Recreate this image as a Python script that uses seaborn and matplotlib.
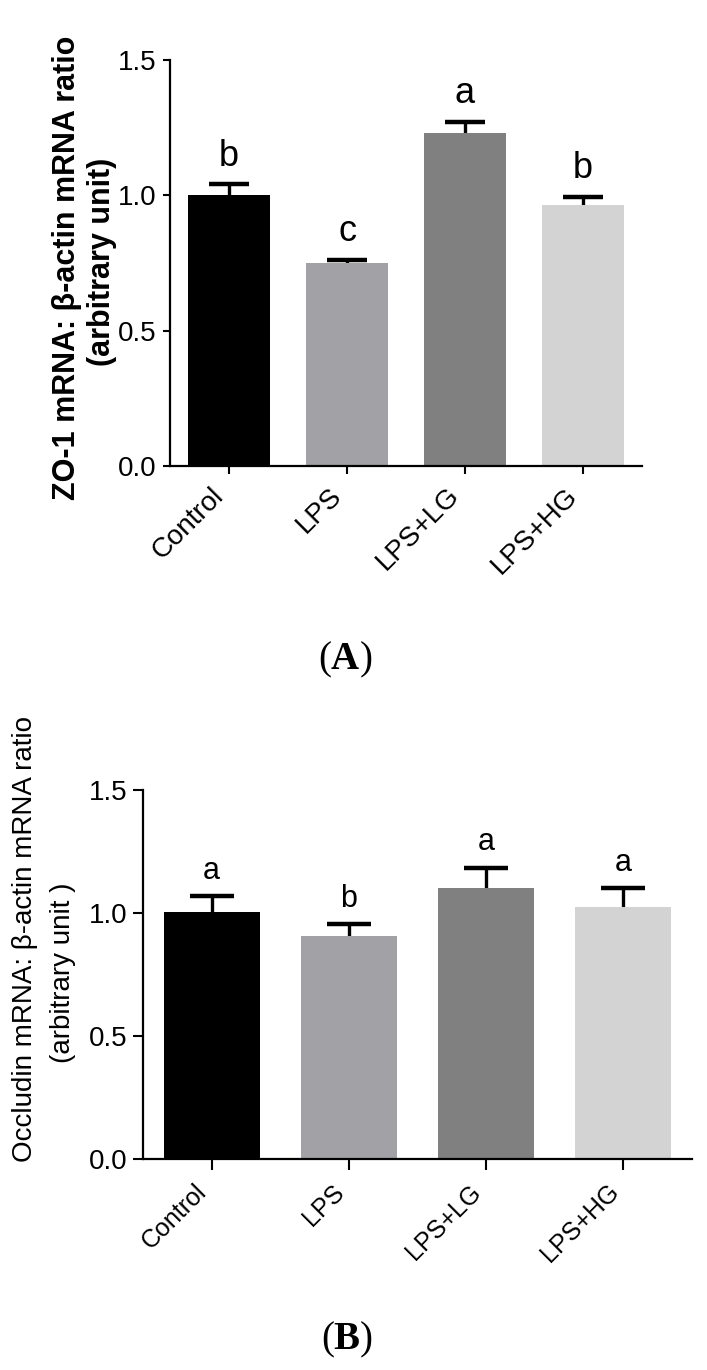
import matplotlib
matplotlib.use("Agg")
import matplotlib.pyplot as plt
from matplotlib import font_manager
import numpy as np
import pandas as pd
import seaborn as sns

# groups and bar colours (same for both panels)
groups = ["Control", "LPS", "LPS+LG", "LPS+HG"]
bar_colors = ["#000000", "#a2a1a6", "#808080", "#d3d3d3"]

# panel A: ZO-1
zo1_mean = [1.00, 0.75, 1.23, 0.965]
zo1_err = [0.04, 0.01, 0.04, 0.03]
zo1_letters = ["b", "c", "a", "b"]

# panel B: Occludin
occ_mean = [1.005, 0.905, 1.10, 1.025]
occ_err = [0.065, 0.05, 0.085, 0.075]
occ_letters = ["a", "b", "a", "a"]

yticks = [0.0, 0.5, 1.0, 1.5]
ytick_labels = ["0.0", "0.5", "1.0", "1.5"]

installed = {f.name for f in font_manager.fontManager.ttflist}
narrow = "Liberation Sans Narrow" if "Liberation Sans Narrow" in installed else "Liberation Sans"

sns.set_style("ticks")
plt.rcParams["font.family"] = ["Liberation Sans", "DejaVu Sans"]
plt.rcParams["text.color"] = "black"
plt.rcParams["axes.labelcolor"] = "black"
plt.rcParams["xtick.color"] = "black"
plt.rcParams["ytick.color"] = "black"
plt.rcParams["mathtext.fontset"] = "custom"
plt.rcParams["mathtext.rm"] = "Liberation Serif"
plt.rcParams["mathtext.bf"] = "Liberation Serif:bold"

fig = plt.figure(figsize=(7.07, 13.70), dpi=100)
axA = fig.add_axes([0.2405, 0.6599, 0.6676, 0.2963])
axB = fig.add_axes([0.2023, 0.1540, 0.7765, 0.2693])


def draw_panel(ax, means, errs, letters, font, tick_size, xlab_size, letter_size,
               capsize, tick_len, xpad, ypad):
    df = pd.DataFrame({"group": groups, "value": means})
    sns.barplot(data=df, x="group", y="value", hue="group", palette=bar_colors,
                width=0.7, errorbar=None, legend=False, saturation=1,
                linewidth=0, ax=ax)
    xs = np.arange(len(groups))
    # error bars sit behind the bars, so only the upper half shows
    ax.errorbar(xs, means, yerr=errs, fmt="none", ecolor="black",
                elinewidth=2.4, capsize=capsize, capthick=3.2, zorder=0.5)
    for x, m, e, t in zip(xs, means, errs, letters):
        ax.text(x, m + e + 0.07, t, ha="center", va="baseline",
                fontsize=letter_size, family=font, color="black")
    ax.set_xlim(-0.5, 3.5)
    ax.set_ylim(0, 1.5)
    ax.set_yticks(yticks, ytick_labels, fontsize=tick_size, family=font)
    ax.set_xticks(xs, groups, rotation=45, ha="right", fontsize=xlab_size, family=font)
    ax.set_xlabel("")
    ax.set_ylabel("")
    sns.despine(ax=ax)
    for s in ["left", "bottom"]:
        ax.spines[s].set_linewidth(1.6)
        ax.spines[s].set_color("black")
    ax.tick_params(axis="y", length=tick_len, width=1.5, pad=ypad, colors="black")
    ax.tick_params(axis="x", length=tick_len + 1, width=1.5, pad=xpad, colors="black")


draw_panel(axA, zo1_mean, zo1_err, zo1_letters, narrow, 20, 20, 26, 14.4, 5, 6, 5)
draw_panel(axB, occ_mean, occ_err, occ_letters, "Liberation Sans", 20, 18, 22, 16, 7, 7, 4)

# y-axis titles
fig.text(67 / 707, 1 - 268 / 1370, "ZO-1 mRNA: β-actin mRNA ratio", rotation=90,
         ha="center", va="center", fontsize=22, fontweight="bold")
fig.text(102 / 707, 1 - 262 / 1370, "(arbitrary unit)", rotation=90,
         ha="center", va="center", fontsize=22, fontweight="bold")
fig.text(25 / 707, 1 - 939 / 1370, "Occludin mRNA: β-actin mRNA ratio", rotation=90,
         ha="center", va="center", fontsize=20)
fig.text(63 / 707, 1 - 973 / 1370, "(arbitrary unit )", rotation=90,
         ha="center", va="center", fontsize=20)

# panel tags
fig.text(345 / 707, 1 - 660 / 1370, "(" + r"$\mathbf{A}$" + ")", ha="center", va="center",
         fontsize=28, family="Liberation Serif")
fig.text(347 / 707, 1 - 1340 / 1370, "(" + r"$\mathbf{B}$" + ")", ha="center", va="center",
         fontsize=28, family="Liberation Serif")

fig.savefig("out.png", dpi=100)
